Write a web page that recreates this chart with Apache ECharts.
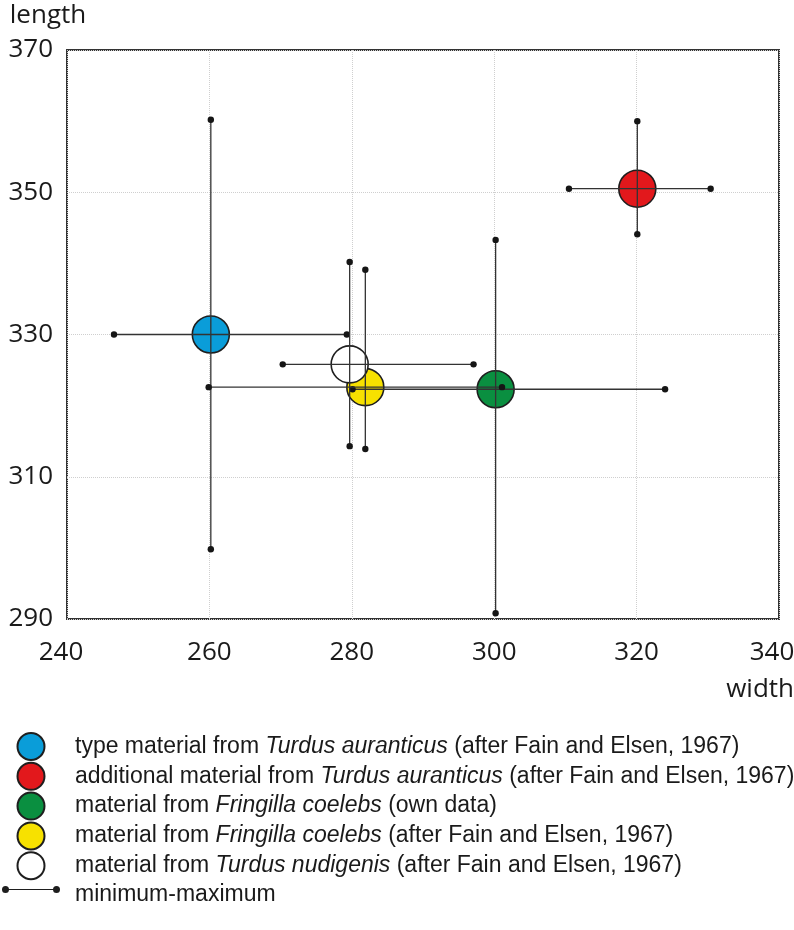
<!DOCTYPE html>
<html>
<head>
<meta charset="utf-8">
<script src="https://cdn.jsdelivr.net/npm/echarts@6/dist/echarts.min.js"></script>
<style>
  html, body { margin: 0; padding: 0; background: #fff; }
  #chart { width: 794px; height: 930px; }
</style>
</head>
<body>
<div id="chart"></div>
<script>
// ---- data ----
const labelPrefix  = ['type material from ', 'additional material from ', 'material from ', 'material from ', 'material from '];
const labelSpecies = ['Turdus auranticus', 'Turdus auranticus', 'Fringilla coelebs', 'Fringilla coelebs', 'Turdus nudigenis'];
const labelSuffix  = [' (after Fain and Elsen, 1967)', ' (after Fain and Elsen, 1967)', ' (own data)', ' (after Fain and Elsen, 1967)', ' (after Fain and Elsen, 1967)'];
const fillColors   = ['#0a9dd9', '#e2181c', '#0a8f40', '#f7e100', '#ffffff'];

// mean width / length
const meanWidth  = [260.2, 320.1, 300.2, 281.9, 279.7];
const meanLength = [330.0, 350.5, 322.3, 322.6, 325.8];
// min-max ranges
const widthMin   = [246.6, 310.5, 280.1, 259.9, 270.3];
const widthMax   = [279.3, 330.4, 324.0, 301.1, 297.1];
const lengthMin  = [299.8, 344.1, 290.8, 313.9, 314.3];
const lengthMax  = [360.2, 360.0, 343.3, 339.1, 340.2];

const xRange = [240, 340], xStep = 20;
const yRange = [290, 370], yStep = 20;
const rangeLabel = 'minimum-maximum';

// ---- chart ----
const names = labelPrefix.map((p, i) => p + labelSpecies[i] + labelSuffix[i]);
const chart = echarts.init(document.getElementById('chart'), null, { renderer: 'canvas' });

const scatterSeries = names.map((n, i) => ({
  name: n,
  type: 'scatter',
  z: 2,
  symbol: 'circle',
  symbolSize: 37,
  itemStyle: { color: fillColors[i], borderColor: '#1e1e1e', borderWidth: 1.6, opacity: 1 },
  emphasis: { disabled: true },
  data: [[meanWidth[i], meanLength[i]]]
}));

const barData = meanWidth.map((w, i) => [w, meanLength[i], widthMin[i], widthMax[i], lengthMin[i], lengthMax[i]]);

const rangeSeries = {
  name: rangeLabel,
  type: 'custom',
  z: 3,
  itemStyle: { color: '#1e1e1e' },
  encode: { x: [0, 2, 3], y: [1, 4, 5] },
  data: barData,
  renderItem: function (params, api) {
    const cx = api.value(0), cy = api.value(1);
    const l = api.coord([api.value(2), cy]);
    const r = api.coord([api.value(3), cy]);
    const b = api.coord([cx, api.value(4)]);
    const t = api.coord([cx, api.value(5)]);
    const ls = { stroke: '#333', lineWidth: 1.3 };
    const dot = (p) => ({ type: 'circle', shape: { cx: p[0], cy: p[1], r: 3.2 }, style: { fill: '#151515' } });
    return {
      type: 'group',
      children: [
        { type: 'line', shape: { x1: l[0], y1: l[1], x2: r[0], y2: r[1] }, style: ls },
        { type: 'line', shape: { x1: t[0], y1: t[1], x2: b[0], y2: b[1] }, style: ls },
        dot(l), dot(r), dot(t), dot(b)
      ]
    };
  }
};

const legendFont = 'Liberation Sans, Arial, sans-serif';
const axisFont = 'Open Sans, sans-serif';

const option = {
  backgroundColor: '#ffffff',
  animation: false,
  grid: { left: 67, right: 15, top: 50, bottom: 311, show: true, borderColor: '#333', borderWidth: 2, backgroundColor: 'transparent', containLabel: false, outerBoundsMode: 'none' },
  xAxis: {
    type: 'value', min: xRange[0], max: xRange[1], interval: xStep,
    name: 'width', nameLocation: 'end', nameGap: 15,
    nameTextStyle: { fontFamily: axisFont, fontSize: 26, color: '#1a1a1a', align: 'right', verticalAlign: 'top', padding: [58, 0, 0, 0] },
    axisLine: { show: false }, axisTick: { show: false },
    axisLabel: {
      fontFamily: axisFont, fontSize: 26, color: '#1a1a1a', margin: 21,
      formatter: function (v) {
        if (v === xRange[0]) return '{lo|' + v + '}';
        if (v === xRange[1]) return '{hi|' + v + '}';
        return String(v);
      },
      rich: {
        lo: { fontFamily: axisFont, fontSize: 26, color: '#1a1a1a', padding: [0, 12, 0, 0] },
        hi: { fontFamily: axisFont, fontSize: 26, color: '#1a1a1a', padding: [0, 14, 0, 0] }
      }
    },
    splitLine: { show: true, lineStyle: { color: '#cfcfcf', type: 'dotted', width: 1 } }
  },
  yAxis: {
    type: 'value', min: yRange[0], max: yRange[1], interval: yStep,
    name: 'length', nameLocation: 'end', nameGap: 21,
    nameTextStyle: { fontFamily: axisFont, fontSize: 26, color: '#1a1a1a', align: 'center', padding: [0, 38, 0, 0] },
    axisLine: { show: false }, axisTick: { show: false },
    axisLabel: { fontFamily: axisFont, fontSize: 26, color: '#1a1a1a', margin: 14 },
    splitLine: { show: true, lineStyle: { color: '#cfcfcf', type: 'dotted', width: 1 } }
  },
  legend: {
    orient: 'vertical', left: 2, top: 732, padding: 0,
    itemWidth: 58, itemHeight: 27, itemGap: 0.8,
    selectedMode: false,
    data: names.map(n => ({ name: n, icon: 'circle' })).concat([{
      name: rangeLabel,
      icon: 'path://M0,3.5A3.5,3.5 0 1 1 7,3.5A3.5,3.5 0 1 1 0,3.5ZM51,3.5A3.5,3.5 0 1 1 58,3.5A3.5,3.5 0 1 1 51,3.5ZM3.5,2.9H54.5V4.1H3.5ZM29,16.95L29.02,17L29,17Z',
      itemStyle: { color: '#1e1e1e', borderWidth: 0 }
    }]),
    formatter: function (name) {
      const i = names.indexOf(name);
      if (i < 0) return '{g|}{n|' + name + '}';
      return '{g|}{n|' + labelPrefix[i] + '}{i|' + labelSpecies[i] + '}{n|' + labelSuffix[i] + '}';
    },
    textStyle: {
      fontFamily: legendFont, fontSize: 23, color: '#1a1a1a', lineHeight: 27,
      rich: {
        g: { width: 10, lineHeight: 27 },
        n: { fontFamily: legendFont, fontSize: 23, color: '#1a1a1a', lineHeight: 27 },
        i: { fontFamily: legendFont, fontSize: 23, color: '#1a1a1a', fontStyle: 'italic', lineHeight: 27 }
      }
    }
  },
  series: scatterSeries.concat([rangeSeries])
};

chart.setOption(option);
</script>
</body>
</html>
